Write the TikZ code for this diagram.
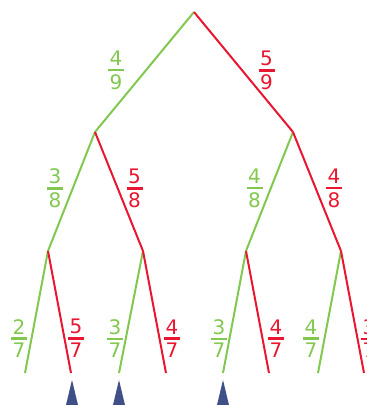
\documentclass[tikz,border=0pt]{standalone}
\usepackage{fontspec}
\setmainfont{DejaVu Sans}
\definecolor{grn}{RGB}{130,200,80}
\definecolor{rd}{RGB}{232,22,48}
\definecolor{mark}{RGB}{62,80,135}
\newcommand\fracbox[2]{\vbox{\offinterlineskip\hbox to 16pt{\hss#1\hss}\kern3.2pt\hrule height 2.4pt width 16pt\kern3.2pt\hbox to 16pt{\hss#2\hss}}}
\tikzset{
  gline/.style={draw=grn,line width=2pt},
  rline/.style={draw=rd,line width=2pt},
  glab/.style={text=grn,inner sep=0pt,font=\fontsize{20}{20}\selectfont},
  rlab/.style={text=rd,inner sep=0pt,font=\fontsize{20}{20}\selectfont},
  pin/.style={fill=mark,draw=none}
}
\begin{document}
\begin{tikzpicture}[x=1pt,y=-1pt]
\useasboundingbox (0,0) rectangle (367,405);
% tree points
\coordinate (r) at (194,12);
\coordinate (a) at (95,132);
\coordinate (b) at (293,132);
\coordinate (aa) at (48,251);
\coordinate (ab) at (143,251);
\coordinate (ba) at (246,251);
\coordinate (bb) at (341,251);
\coordinate (l1) at (25,373);
\coordinate (l2) at (71,373);
\coordinate (l3) at (119,373);
\coordinate (l4) at (166,373);
\coordinate (l5) at (223,373);
\coordinate (l6) at (269,373);
\coordinate (l7) at (318,373);
\coordinate (l8) at (364,373);
% branches
\draw[gline] (r) -- (a);
\draw[rline] (r) -- (b);
\draw[gline] (a) -- (aa);
\draw[rline] (a) -- (ab);
\draw[gline] (b) -- (ba);
\draw[rline] (b) -- (bb);
\draw[gline] (aa) -- (l1);
\draw[rline] (aa) -- (l2);
\draw[gline] (ab) -- (l3);
\draw[rline] (ab) -- (l4);
\draw[gline] (ba) -- (l5);
\draw[rline] (ba) -- (l6);
\draw[gline] (bb) -- (l7);
\draw[rline] (bb) -- (l8);
% labels
\node[glab] (f1) at (116,70.5) {\fracbox{4}{9}};
\node[rlab] (f2) at (266.5,70.5) {\fracbox{5}{9}};
\node[glab] (f3) at (55,188.5) {\fracbox{3}{8}};
\node[rlab] (f4) at (134.5,188.5) {\fracbox{5}{8}};
\node[glab] (f5) at (254.5,188.5) {\fracbox{4}{8}};
\node[rlab] (f6) at (334,188.5) {\fracbox{4}{8}};
\node[glab] (g1) at (19,338.5) {\fracbox{2}{7}};
\node[rlab] (g2) at (76,338.5) {\fracbox{5}{7}};
\node[glab] (g3) at (115,338.5) {\fracbox{3}{7}};
\node[rlab] (g4) at (172,338.5) {\fracbox{4}{7}};
\node[glab] (g5) at (219,338.5) {\fracbox{3}{7}};
\node[rlab] (g6) at (276,338.5) {\fracbox{4}{7}};
\node[glab] (g7) at (311,338.5) {\fracbox{4}{7}};
\node[rlab] (g8) at (369,338.5) {\fracbox{3}{7}};
% markers
\fill[pin] (72,380) -- (78,405) -- (66,405) -- cycle;
\fill[pin] (119,380) -- (125,405) -- (113,405) -- cycle;
\fill[pin] (223,380) -- (229,405) -- (217,405) -- cycle;
\end{tikzpicture}
\end{document}
